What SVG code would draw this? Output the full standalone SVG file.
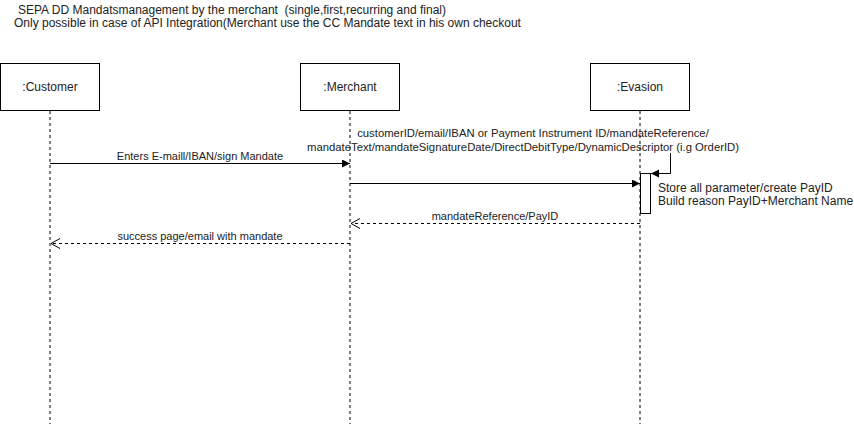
<svg xmlns="http://www.w3.org/2000/svg" width="854" height="424" viewBox="0 0 854 424">
  <defs>
    <style>
      text { font-family: "Liberation Sans", Arial, sans-serif; font-size: 11px; fill: #222; white-space: pre; }
      .big { font-size: 12px; }
      .box { fill: #fff; stroke: #000; stroke-width: 1; }
      .life { stroke: #000; stroke-width: 1; stroke-dasharray: 3 3; fill: none; }
      .msg { stroke: #000; stroke-width: 1; fill: none; }
      .ret { stroke: #000; stroke-width: 1; fill: none; stroke-dasharray: 3 3; }
      .mid { text-anchor: middle; }
    </style>
    <marker id="block" markerWidth="10" markerHeight="10" refX="8" refY="4" orient="auto" markerUnits="userSpaceOnUse">
      <path d="M0,0 L8,4 L0,8 Z" fill="#000"/>
    </marker>
    <marker id="open" markerWidth="12" markerHeight="12" refX="9" refY="5" orient="auto" markerUnits="userSpaceOnUse">
      <path d="M0,0 L9,5 L0,10" fill="none" stroke="#000" stroke-width="1"/>
    </marker>
  </defs>
  <rect width="854" height="424" fill="#fff"/>

  <g id="title">
    <text class="big" x="18" y="14" xml:space="preserve">SEPA DD Mandatsmanagement by the merchant  (single,first,recurring and final)</text>
    <text class="big" x="14" y="27">Only possible in case of API Integration(Merchant use the CC Mandate text in his own checkout</text>
  </g>

  <g id="customer">
    <line class="life" x1="50" y1="111" x2="50" y2="424"/>
    <rect class="box" x="0.5" y="63.5" width="99" height="47"/>
    <text class="mid big" x="50" y="91">:Customer</text>
  </g>

  <g id="merchant">
    <line class="life" x1="350" y1="111" x2="350" y2="424"/>
    <rect class="box" x="300.5" y="63.5" width="99" height="47"/>
    <text class="mid big" x="350" y="91">:Merchant</text>
  </g>

  <g id="evasion">
    <line class="life" x1="640" y1="111" x2="640" y2="424"/>
    <rect class="box" x="590.5" y="63.5" width="99" height="47"/>
    <text class="mid big" x="640" y="91">:Evasion</text>
  </g>

  <g id="activation">
    <rect class="box" x="640.5" y="173.5" width="10" height="40"/>
  </g>

  <g id="note">
    <text class="big" x="658" y="192">Store all parameter/create PayID</text>
    <text class="big" x="658" y="205">Build reason PayID+Merchant Name</text>
  </g>

  <g id="connectors">
    <line class="msg" x1="50" y1="163.5" x2="350" y2="163.5" marker-end="url(#block)"/>
    <text class="mid" x="200" y="160">Enters E-maill/IBAN/sign Mandate</text>

    <line class="msg" x1="350" y1="183.5" x2="640" y2="183.5" marker-end="url(#block)"/>
    <text class="mid" x="533" y="137" style="font-size:11.3px">customerID/email/IBAN or Payment Instrument ID/mandateReference/</text>
    <text class="mid" x="523" y="151" style="font-size:11.3px">mandateText/mandateSignatureDate/DirectDebitType/DynamicDescriptor (i.g OrderID)</text>

    <polyline class="msg" points="670.5,153 670.5,173.5 651,173.5" marker-end="url(#block)"/>

    <line class="ret" x1="640" y1="223.5" x2="351" y2="223.5" marker-end="url(#open)"/>
    <text class="mid" x="495" y="220">mandateReference/PayID</text>

    <line class="ret" x1="350" y1="243.5" x2="51" y2="243.5" marker-end="url(#open)"/>
    <text class="mid" x="200" y="240">success page/email with mandate</text>
  </g>
</svg>
